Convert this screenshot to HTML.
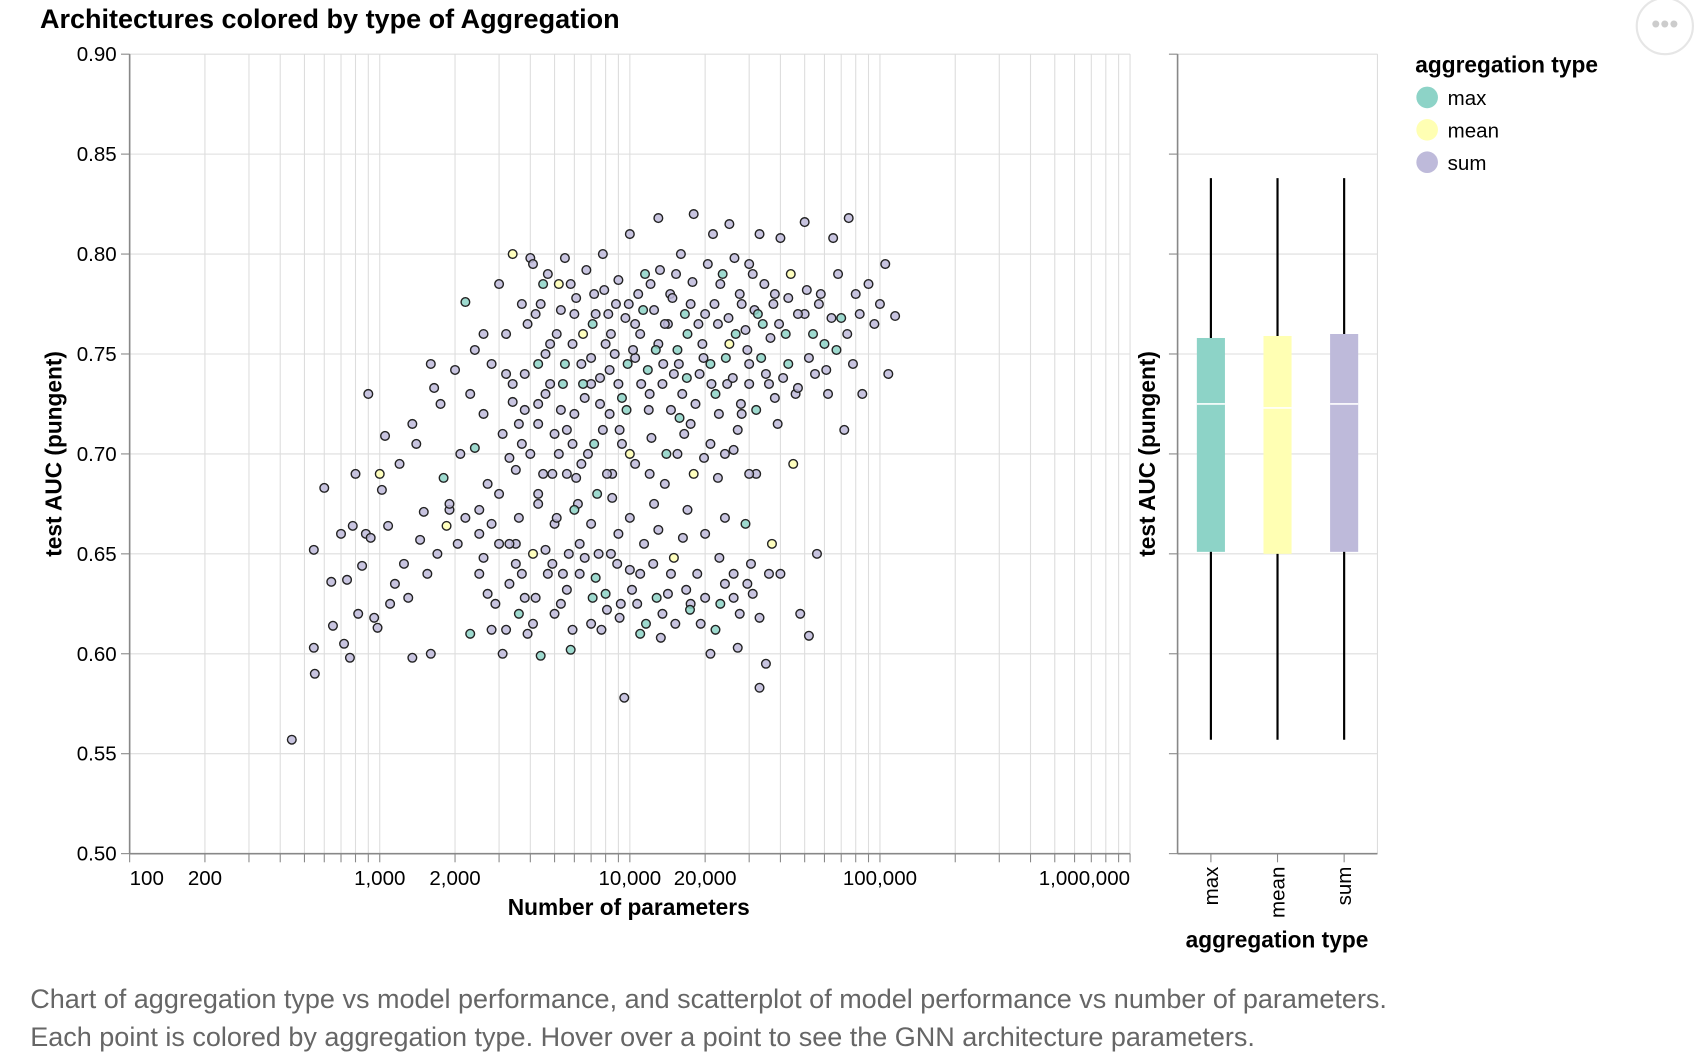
<!DOCTYPE html>
<html><head><meta charset="utf-8"><style>
html,body{margin:0;padding:0;background:#fff;}
svg{display:block;font-family:"Liberation Sans",Arial,sans-serif;}
</style></head><body>
<svg id="chart" width="1694" height="1058" viewBox="0 0 1568 979" xmlns="http://www.w3.org/2000/svg">
<text x="37" y="26" font-size="25" font-weight="bold" fill="#000">Architectures colored by type of Aggregation</text>
<circle cx="1541" cy="24" r="26" fill="#fff" stroke="#e6e6e6" stroke-width="2"/>
<text x="1541" y="30" font-size="24" text-anchor="middle" fill="#ccc">•••</text>
<g id="scatter"></g>
<g id="box"></g>
<g id="legend"></g>
<text x="28" y="933" font-size="25" fill="#666">Chart of aggregation type vs model performance, and scatterplot of model performance vs number of parameters.</text>
<text x="28" y="968" font-size="25" fill="#666">Each point is colored by aggregation type. Hover over a point to see the GNN architecture parameters.</text>
</svg>
<script>
const aggTypes = ["max","mean","sum"];
const aggColors = ["#8dd3c7","#ffffb3","#bebada"];
const yTicks = [0.50,0.55,0.60,0.65,0.70,0.75,0.80,0.85,0.90];
const xTickValues = [100,200,1000,2000,10000,20000,100000,1000000];
const xTickLabels = ["100","200","1,000","2,000","10,000","20,000","100,000","1,000,000"];
// box stats: [lower whisker, q1, median, q3, upper whisker]
const boxMax = [0.557,0.651,0.725,0.758,0.838];
const boxMean = [0.557,0.650,0.723,0.759,0.838];
const boxSum = [0.557,0.651,0.725,0.760,0.838];
const params = [445,545,545,550,600,640,650,700,720,740,760,780,800,820,850,880,900,920,950,980,
1000,1020,1050,1080,1100,1150,1200,1250,1300,1350,1350,1400,1450,1500,1550,1600,1600,1650,1700,1750,
1800,1850,1900,2000,2050,2100,2200,2300,2400,2400,2500,2500,2600,2700,2800,2800,3000,3000,3100,3200,
3300,3400,3400,3500,3500,3600,3700,3800,3900,4000,4000,4100,4200,4300,4400,4500,4600,4700,4800,5000,
5000,5200,5300,5500,5500,5600,5700,5800,6000,6000,6200,6300,6500,6800,7000,7000,7200,7400,7500,7800,
8000,8000,8300,8500,8800,9000,9200,9500,9800,10000,10000,10500,11000,11000,11500,12000,12500,13000,13000,13500,
14000,14500,15000,15000,16000,16500,17000,17500,18000,18000,19000,20000,20000,21000,21500,22000,23000,23000,24000,25000,
25000,26000,27000,28000,28000,29000,30000,30000,31000,32000,33000,33000,34000,35000,36000,37000,38000,39000,40000,40000,
42000,44000,45000,46000,48000,50000,50000,52000,55000,56000,58000,60000,62000,65000,68000,70000,72000,75000,78000,80000,
85000,90000,95000,100000,105000,108000,115000,
3200,3600,3900,4300,4600,5100,5400,5900,6400,6600,7100,7600,8200,8700,9300,9900,10500,11000,11800,12500,
13500,14200,15500,16200,17500,19500,21000,22500,24500,26500,29500,31500,33500,36500,41000,3300,3700,4200,4900,5600,
6300,7300,8100,8900,10200,11400,12800,14600,16800,19200,22800,26000,30500,2800,4500,5200,6100,7800,9300,12000,
15800,21000,27000,2300,2600,3100,1900,2200,2700,
4100,4400,4700,5300,5800,6100,6700,7300,7900,8400,9000,9600,10800,11300,12100,13200,13800,14800,15300,16600,
17800,18800,20500,21800,23500,24800,26200,27500,29000,31000,32500,34500,37500,39500,43000,47000,51000,54000,57000,61000,
64000,67000,74000,83000,
3400,3800,4300,4800,5300,5900,6500,7000,7600,8300,9000,9700,10300,11100,11900,12700,13600,14600,15700,16900,
18300,19700,21200,22700,24200,25800,27800,30000,32000,35000,38000,43000,47000,52000,
3300,3700,4300,4900,5600,6400,7200,8100,9100,10500,12200,13800,15500,17500,19800,22500,26000,30000,
2600,2900,3200,3500,3800,4100,4600,5000,5400,5900,6600,7100,7700,8400,9100,10000,10700,11600,12400,13300,
14200,15200,16300,17400,18600,20000,22000,24000,27500,29500,33000,36000,
2500,3000,3600,4300,5100,6000,7000,8500,10000,13000,17000,24000];
const aucs = [0.557,0.652,0.603,0.590,0.683,0.636,0.614,0.660,0.605,0.637,0.598,0.664,0.690,0.620,0.644,0.660,0.730,0.658,0.618,0.613,
0.690,0.682,0.709,0.664,0.625,0.635,0.695,0.645,0.628,0.715,0.598,0.705,0.657,0.671,0.640,0.745,0.600,0.733,0.650,0.725,
0.688,0.664,0.672,0.742,0.655,0.700,0.776,0.610,0.703,0.752,0.660,0.640,0.720,0.685,0.745,0.612,0.785,0.655,0.600,0.760,
0.635,0.800,0.726,0.692,0.655,0.620,0.775,0.740,0.610,0.798,0.700,0.650,0.770,0.680,0.599,0.785,0.730,0.640,0.755,0.710,
0.665,0.785,0.625,0.798,0.745,0.690,0.650,0.602,0.770,0.720,0.675,0.640,0.760,0.700,0.735,0.615,0.780,0.680,0.650,0.800,
0.755,0.630,0.720,0.690,0.775,0.660,0.625,0.578,0.745,0.810,0.700,0.765,0.640,0.610,0.790,0.730,0.675,0.818,0.755,0.620,
0.700,0.780,0.648,0.740,0.800,0.710,0.760,0.625,0.690,0.820,0.740,0.770,0.660,0.600,0.810,0.730,0.785,0.625,0.700,0.815,
0.755,0.640,0.603,0.775,0.720,0.665,0.795,0.745,0.630,0.690,0.810,0.583,0.765,0.595,0.735,0.655,0.780,0.715,0.808,0.640,
0.760,0.790,0.695,0.730,0.620,0.816,0.770,0.609,0.740,0.650,0.780,0.755,0.730,0.808,0.790,0.768,0.712,0.818,0.745,0.780,
0.730,0.785,0.765,0.775,0.795,0.740,0.769,
0.740,0.715,0.765,0.725,0.750,0.760,0.735,0.705,0.745,0.728,0.765,0.738,0.770,0.750,0.728,0.775,0.748,0.760,0.742,0.772,
0.735,0.765,0.752,0.730,0.775,0.755,0.745,0.765,0.735,0.760,0.752,0.772,0.748,0.758,0.738,0.655,0.640,0.628,0.645,0.632,
0.655,0.638,0.622,0.645,0.632,0.655,0.628,0.640,0.632,0.615,0.648,0.628,0.645,0.665,0.690,0.700,0.688,0.712,0.705,0.690,
0.718,0.705,0.712,0.730,0.760,0.710,0.675,0.668,0.630,
0.795,0.775,0.790,0.772,0.785,0.778,0.792,0.770,0.782,0.760,0.787,0.768,0.780,0.772,0.785,0.792,0.765,0.778,0.790,0.770,
0.786,0.765,0.795,0.775,0.790,0.768,0.798,0.780,0.762,0.790,0.770,0.785,0.775,0.765,0.778,0.770,0.782,0.760,0.775,0.742,
0.768,0.752,0.760,0.770,
0.735,0.722,0.745,0.735,0.722,0.755,0.735,0.748,0.725,0.742,0.735,0.722,0.752,0.735,0.722,0.752,0.745,0.722,0.745,0.738,
0.725,0.748,0.735,0.720,0.748,0.738,0.725,0.735,0.722,0.740,0.728,0.745,0.733,0.748,
0.698,0.705,0.715,0.690,0.712,0.695,0.705,0.690,0.712,0.695,0.708,0.685,0.700,0.715,0.698,0.688,0.702,0.690,
0.648,0.625,0.612,0.645,0.628,0.615,0.652,0.620,0.640,0.612,0.648,0.628,0.612,0.650,0.618,0.642,0.625,0.615,0.645,0.608,
0.630,0.615,0.658,0.622,0.640,0.628,0.612,0.635,0.620,0.635,0.618,0.640,
0.672,0.680,0.668,0.675,0.668,0.672,0.665,0.678,0.668,0.662,0.672,0.668];
const aggs = [2,2,2,2,2,2,2,2,2,2,2,2,2,2,2,2,2,2,2,2,
1,2,2,2,2,2,2,2,2,2,2,2,2,2,2,2,2,2,2,2,
0,1,2,2,2,2,0,0,0,2,2,2,2,2,2,2,2,2,2,2,
2,1,2,2,2,0,2,2,2,2,2,1,2,2,0,0,2,2,2,2,
2,1,2,2,0,2,2,0,2,2,2,2,1,2,2,2,2,0,2,2,
2,0,2,2,2,2,2,2,0,2,1,2,2,0,0,2,2,2,2,2,
0,2,1,2,2,2,0,2,1,2,2,2,2,2,2,0,2,0,2,2,
1,2,2,2,2,0,2,2,2,2,2,2,0,2,2,1,2,2,2,2,
0,1,1,2,2,2,2,2,2,2,2,0,2,2,2,0,2,2,2,2,
2,2,2,2,2,2,2,
2,2,2,2,2,2,0,2,2,2,0,2,2,2,0,2,2,2,0,2,
2,2,0,2,2,2,0,2,2,0,2,2,0,2,2,2,2,2,2,2,
2,0,2,2,2,2,0,2,2,2,2,2,2,2,2,2,2,2,2,2,
0,2,2,2,2,2,2,2,2,
2,2,2,2,2,2,2,2,2,2,2,2,2,0,2,2,2,2,2,0,
2,2,2,2,0,2,2,2,2,2,0,2,2,2,2,2,2,0,2,2,
2,0,2,2,
2,2,0,2,2,2,0,2,2,2,2,0,2,2,2,0,2,2,2,0,
2,2,2,2,0,2,2,2,0,2,2,0,2,2,
2,2,2,2,2,2,0,2,2,2,2,2,2,2,2,2,2,2,
2,2,2,2,2,2,2,2,2,2,2,0,2,2,2,2,2,0,2,2,
2,2,2,0,2,2,0,2,2,2,2,2,
2,2,2,2,2,0,2,2,2,2,2,2];

const NS="http://www.w3.org/2000/svg";
function mk(parent,tag,attrs,text){const e=document.createElementNS(NS,tag);for(const k in attrs)e.setAttribute(k,attrs[k]);if(text!==undefined)e.textContent=text;parent.appendChild(e);return e;}
const yTop=50,yBot=790;
const yScale=v=>yBot-(v-0.5)/0.4*(yBot-yTop);
const xL=120,xR=1046;
const xScale=v=>xL+(Math.log10(v)-2)/4*(xR-xL);
const TICK=19, TITLE=21;

// scatter
const sc=document.getElementById('scatter');
const grid=mk(sc,'g',{});


for(let d=100;d<1e6;d*=10){for(let m=1;m<10;m++){const px=xScale(d*m);
 mk(grid,'line',{x1:px,x2:px,y1:yTop,y2:yBot,stroke:'#ddd','stroke-width':1});
 mk(grid,'line',{x1:px,x2:px,y1:yBot,y2:yBot+8,stroke:'#888','stroke-width':1});}}
mk(grid,'line',{x1:xR,x2:xR,y1:yTop,y2:yBot+8,stroke:'#ddd','stroke-width':1});
mk(grid,'line',{x1:xR,x2:xR,y1:yBot,y2:yBot+8,stroke:'#888','stroke-width':1});
yTicks.forEach(t=>{mk(grid,'line',{x1:xL,x2:xR,y1:yScale(t),y2:yScale(t),stroke:'#ddd','stroke-width':1});
 mk(grid,'line',{x1:xL-8,x2:xL,y1:yScale(t),y2:yScale(t),stroke:'#888','stroke-width':1});
 const tl=mk(sc,'text',{x:xL-12,y:yScale(t)+6.5,'font-size':TICK,'text-anchor':'end',fill:'#000'},t.toFixed(2));
 
 });
mk(sc,'line',{x1:xL,x2:xL,y1:yTop,y2:yBot,stroke:'#888','stroke-width':1.5});
mk(sc,'line',{x1:xL,x2:xR,y1:yBot,y2:yBot,stroke:'#888','stroke-width':1.5});
xTickValues.forEach((t,i)=>{const px=xScale(t);let anchor='middle';
 if(i===0)anchor='start'; if(i===xTickValues.length-1)anchor='end';
 const tl=mk(sc,'text',{x:px,y:yBot+29,'font-size':TICK,'text-anchor':anchor,fill:'#000'},xTickLabels[i]);
 
 });
const xt=mk(sc,'text',{x:582,y:847,'font-size':TITLE,'font-weight':'bold','text-anchor':'middle'},'Number of parameters');


const yt=mk(sc,'text',{transform:'translate(57,420) rotate(-90)','font-size':TITLE,'font-weight':'bold','text-anchor':'middle'},'test AUC (pungent)');


const pts=mk(sc,'g',{});


for(let i=0;i<params.length;i++){
 const c=mk(pts,'circle',{cx:xScale(params[i]),cy:yScale(aucs[i]),r:4,fill:aggColors[aggs[i]],'fill-opacity':0.85,stroke:'#222','stroke-width':1.3});
 
 
}

// box plot
const bx=document.getElementById('box');
const bL=1090,bR=1275;
yTicks.forEach(t=>{mk(bx,'line',{x1:bL,x2:bR,y1:yScale(t),y2:yScale(t),stroke:'#ddd','stroke-width':1});
 mk(bx,'line',{x1:bL-8,x2:bL,y1:yScale(t),y2:yScale(t),stroke:'#888','stroke-width':1});});
mk(bx,'line',{x1:bR,x2:bR,y1:yTop,y2:yBot,stroke:'#ddd','stroke-width':1});
mk(bx,'line',{x1:bL,x2:bL,y1:yTop,y2:yBot,stroke:'#888','stroke-width':1.5});
mk(bx,'line',{x1:bL,x2:bR,y1:yBot,y2:yBot,stroke:'#888','stroke-width':1.5});
const boxes=[boxMax,boxMean,boxSum];
const bandStep=(bR-bL)/3;
boxes.forEach((s,i)=>{const cx=bL+bandStep*(i+0.5);
 const g=mk(bx,'g',{});
 
 
 mk(g,'line',{x1:cx,x2:cx,y1:yScale(s[0]),y2:yScale(s[4]),stroke:'#000','stroke-width':2});
 mk(g,'rect',{x:cx-13,y:yScale(s[3]),width:26,height:yScale(s[1])-yScale(s[3]),fill:aggColors[i]});
 mk(g,'line',{x1:cx-13,x2:cx+13,y1:yScale(s[2]),y2:yScale(s[2]),stroke:'#fff','stroke-width':1.5});
 mk(bx,'line',{x1:cx,x2:cx,y1:yBot,y2:yBot+8,stroke:'#888','stroke-width':1});
 const tl=mk(bx,'text',{transform:`translate(${cx+6.5},${yBot+12}) rotate(-90)`,'font-size':TICK,'text-anchor':'end'},aggTypes[i]);
 
 });
const byt=mk(bx,'text',{transform:'translate(1069,420) rotate(-90)','font-size':TITLE,'font-weight':'bold','text-anchor':'middle'},'test AUC (pungent)');


const bxt=mk(bx,'text',{x:1182,y:877,'font-size':TITLE,'font-weight':'bold','text-anchor':'middle'},'aggregation type');



// legend
const lg=document.getElementById('legend');
const lt=mk(lg,'text',{x:1310,y:67,'font-size':TITLE,'font-weight':'bold'},'aggregation type');


aggTypes.forEach((a,i)=>{const g=mk(lg,'g',{});
 
 
 mk(g,'circle',{cx:1321,cy:90+i*30,r:10,fill:aggColors[i]});
 mk(g,'text',{x:1340,y:97+i*30,'font-size':TICK},a);});
</script>
</body></html>
